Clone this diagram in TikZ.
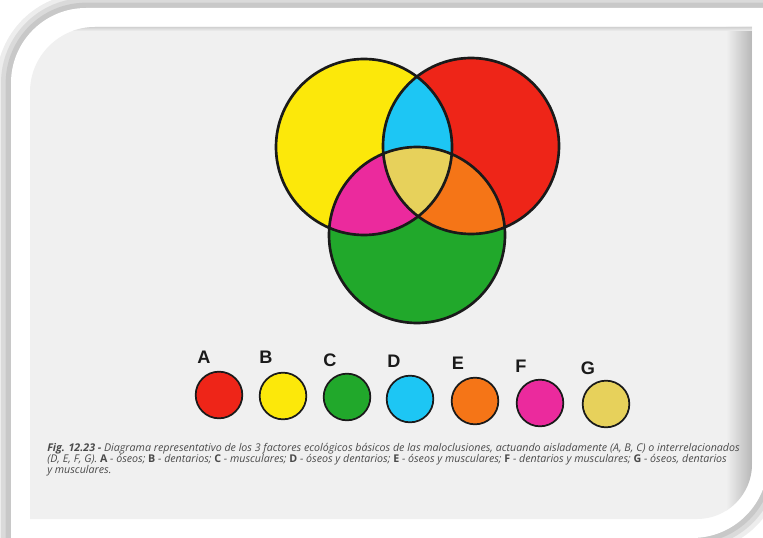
\documentclass[tikz,border=0pt]{standalone}
\usepackage{fontspec}
\setmainfont{Liberation Sans}
\newfontfamily\capfont{Open Sans}
\usepackage{tikz}
\usetikzlibrary{positioning}
\definecolor{mRed}{HTML}{EE2518}
\definecolor{mYellow}{HTML}{FCE80A}
\definecolor{mGreen}{HTML}{21A82B}
\definecolor{mCyan}{HTML}{1DC6F4}
\definecolor{mOrange}{HTML}{F57517}
\definecolor{mMagenta}{HTML}{EB2A9D}
\definecolor{mGold}{HTML}{E7D15B}
\definecolor{mInk}{HTML}{1A1A1A}
\definecolor{mPage}{HTML}{F0F0F0}
\definecolor{mCap}{HTML}{4A4A4A}
\newcommand\framepath{(11,540) -- (11,83) arc[start angle=180, end angle=270, radius=75]
  -- (768,8) -- (768,462) arc[start angle=0, end angle=90, radius=76] -- cycle}
\newcommand\pagepath{(30,519) -- (30,92) arc[start angle=180, end angle=270, radius=65]
  -- (752,27) -- (752,464) arc[start angle=0, end angle=90, radius=55] -- cycle}

\begin{document}
\begin{tikzpicture}[x=0.75pt, y=-0.75pt,
      ring/.style={draw=mInk, line width=2pt},
      dot/.style={circle, draw=mInk, line width=1.3pt, minimum size=35pt,
                  inner sep=0pt},
      tag/.style={inner sep=0pt, text=mInk,
                  font=\fontsize{13.6}{16}\selectfont\bfseries},
      legendline/.style={anchor=base west, inner sep=0pt, text=mCap,
                  font=\capfont\itshape\fontsize{8}{9}\selectfont}]
    \useasboundingbox (0,0) rectangle (763,538);

    % shadow, white frame and the photographed page
    \fill[white] (0,0) rectangle (763,538);
    \draw[black, opacity=0.07, line width=22pt] \framepath;
    \draw[black, opacity=0.08, line width=15pt] \framepath;
    \draw[black, opacity=0.08, line width=8pt] \framepath;
    \fill[white] \framepath;
    \fill[mPage] \pagepath;
    \begin{scope}
      \clip \pagepath;
      \shade[left color=mPage, right color=black!28] (726,27) rectangle (752,519);
      \shade[top color=black!18, bottom color=mPage] (30,27) rectangle (752,31);
    \end{scope}

    % three overlapping factors
    \coordinate (cY) at (364,147);
    \coordinate (cR) at (471,146);
    \coordinate (cG) at (417,235);
    \fill[mYellow] (cY) circle[radius=88];
    \fill[mRed] (cR) circle[radius=88];
    \fill[mGreen] (cG) circle[radius=88];
    \begin{scope}
      \clip (cY) circle[radius=88];
      \fill[mCyan] (cR) circle[radius=88];
      \fill[mMagenta] (cG) circle[radius=88];
    \end{scope}
    \begin{scope}
      \clip (cR) circle[radius=88];
      \fill[mOrange] (cG) circle[radius=88];
      \clip (cY) circle[radius=88];
      \fill[mGold] (cG) circle[radius=88];
    \end{scope}
    \draw[ring] (cY) circle[radius=88];
    \draw[ring] (cR) circle[radius=88];
    \draw[ring] (cG) circle[radius=88];

    % key
    \node[dot, fill=mRed] (a) at (219,395) {};
    \node[dot, fill=mYellow] (b) at (283,396) {};
    \node[dot, fill=mGreen] (c) at (347,397) {};
    \node[dot, fill=mCyan] (d) at (410,399) {};
    \node[dot, fill=mOrange] (e) at (475,401) {};
    \node[dot, fill=mMagenta] (f) at (540,403) {};
    \node[dot, fill=mGold] (g) at (606,404) {};

    \node[tag] (ta) at (204,357) {A};
    \node[tag] (tb) at (266,357) {B};
    \node[tag] (tc) at (330,360) {C};
    \node[tag] (td) at (394,361) {D};
    \node[tag] (te) at (458,363) {E};
    \node[tag] (tf) at (521,366) {F};
    \node[tag] (tg) at (588,368) {G};

    % caption
    \node[legendline] (l1) at (47,451) {\textbf{Fig. 12.23 -} Diagrama representativo de los 3 factores ecológicos básicos de las maloclusiones, actuando aisladamente (A, B, C) o interrelacionados};
    \node[legendline] (l2) at (47,462) {(D, E, F, G). \textbf{\upshape A} - óseos; \textbf{\upshape B} - dentarios; \textbf{\upshape C} - musculares; \textbf{\upshape D} - óseos y dentarios; \textbf{\upshape E} - óseos y musculares; \textbf{\upshape F} - dentarios y musculares; \textbf{\upshape G} - óseos, dentarios};
    \node[legendline] (l3) at (47,473) {y musculares.};
\end{tikzpicture}
\end{document}
